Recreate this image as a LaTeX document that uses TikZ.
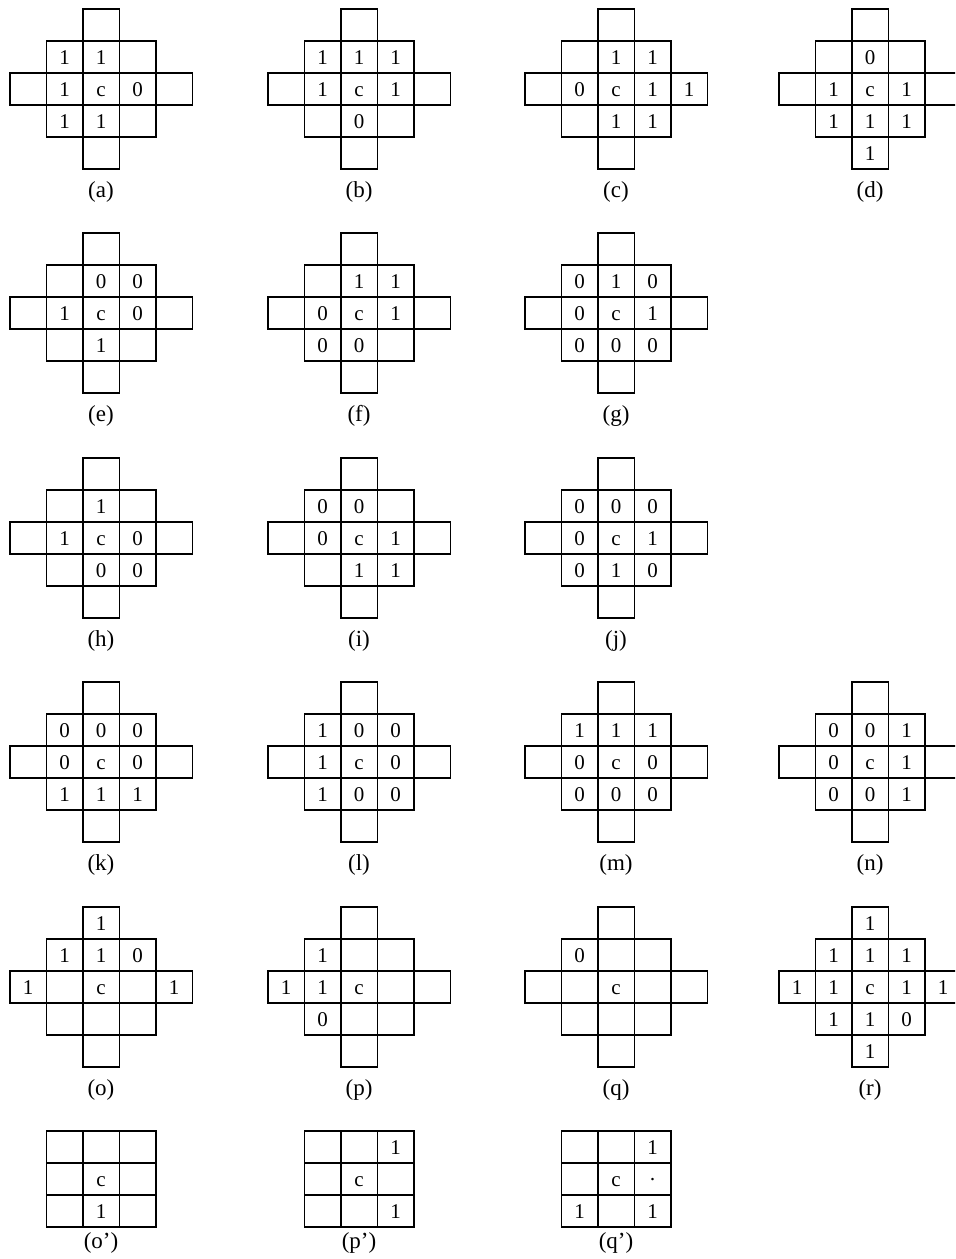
\documentclass[tikz,border=0pt]{standalone}
\usepackage{fontspec}
\setmainfont{Liberation Serif}

\begin{document}
\begin{tikzpicture}[
        x=0.5pt, y=-0.5pt,
        every node/.style={font=\fontsize{10.5}{12}\selectfont},
        cellval/.style={inner sep=0pt, text height=7.1pt, text depth=0pt},
        caplabel/.style={inner sep=0pt, anchor=north, font=\fontsize{11.5}{13}\selectfont},
        gridline/.style={line width=0.75pt}
    ]
        \useasboundingbox (0,0) rectangle (955,1259);
        \clip (0,0) rectangle (955,1259);

        \def\cw{36.5}
        \def\ch{32}
        \def\capgap{12}

        % #1 name, #2 caption, #3 x, #4 y, #5 arm (cells), #6 row/col/value
        \def\panel#1#2#3#4#5#6{%
            \begin{scope}[shift={(#3,#4)}]
                \draw[gridline] (-1.5*\cw,-1.5*\ch) rectangle (1.5*\cw,1.5*\ch);
                \draw[gridline] (-#5*\cw,-0.5*\ch) rectangle (#5*\cw,0.5*\ch);
                \draw[gridline] (-0.5*\cw,-#5*\ch) rectangle (0.5*\cw,#5*\ch);
                \foreach \r/\c/\v in {#6}
                \node[cellval] (#1-\r\c) at ({(\c-3)*\cw},{(\r-3)*\ch}) {\v};
                \node[caplabel] (#1-cap) at (0,{#5*\ch+\capgap}) {(#2)};
            \end{scope}}

        \def\xA{101}
        \def\xB{359}
        \def\xC{616}
        \def\xD{870}

% ---------- row 1 ----------
        \panel{a}{a}{\xA}{89}{2.5}{2/2/1, 2/3/1, 3/2/1, 3/3/c, 3/4/0, 4/2/1, 4/3/1}
        \panel{b}{b}{\xB}{89}{2.5}{2/2/1, 2/3/1, 2/4/1, 3/2/1, 3/3/c, 3/4/1, 4/3/0}
        \panel{c}{c}{\xC}{89}{2.5}{2/3/1, 2/4/1, 3/2/0, 3/3/c, 3/4/1, 3/5/1, 4/3/1, 4/4/1}
        \panel{d}{d}{\xD}{89}{2.5}{2/3/0, 3/2/1, 3/3/c, 3/4/1, 4/2/1, 4/3/1, 4/4/1, 5/3/1}

% ---------- row 2 ----------
        \panel{e}{e}{\xA}{313}{2.5}{2/3/0, 2/4/0, 3/2/1, 3/3/c, 3/4/0, 4/3/1}
        \panel{f}{f}{\xB}{313}{2.5}{2/3/1, 2/4/1, 3/2/0, 3/3/c, 3/4/1, 4/2/0, 4/3/0}
        \panel{g}{g}{\xC}{313}{2.5}{2/2/0, 2/3/1, 2/4/0, 3/2/0, 3/3/c, 3/4/1, 4/2/0, 4/3/0, 4/4/0}

% ---------- row 3 ----------
        \panel{h}{h}{\xA}{538}{2.5}{2/3/1, 3/2/1, 3/3/c, 3/4/0, 4/3/0, 4/4/0}
        \panel{i}{i}{\xB}{538}{2.5}{2/2/0, 2/3/0, 3/2/0, 3/3/c, 3/4/1, 4/3/1, 4/4/1}
        \panel{j}{j}{\xC}{538}{2.5}{2/2/0, 2/3/0, 2/4/0, 3/2/0, 3/3/c, 3/4/1, 4/2/0, 4/3/1, 4/4/0}

% ---------- row 4 ----------
        \panel{k}{k}{\xA}{762}{2.5}{2/2/0, 2/3/0, 2/4/0, 3/2/0, 3/3/c, 3/4/0, 4/2/1, 4/3/1, 4/4/1}
        \panel{l}{l}{\xB}{762}{2.5}{2/2/1, 2/3/0, 2/4/0, 3/2/1, 3/3/c, 3/4/0, 4/2/1, 4/3/0, 4/4/0}
        \panel{m}{m}{\xC}{762}{2.5}{2/2/1, 2/3/1, 2/4/1, 3/2/0, 3/3/c, 3/4/0, 4/2/0, 4/3/0, 4/4/0}
        \panel{n}{n}{\xD}{762}{2.5}{2/2/0, 2/3/0, 2/4/1, 3/2/0, 3/3/c, 3/4/1, 4/2/0, 4/3/0, 4/4/1}

% ---------- row 5 ----------
        \panel{o}{o}{\xA}{987}{2.5}{1/3/1, 2/2/1, 2/3/1, 2/4/0, 3/1/1, 3/3/c, 3/5/1}
        \panel{p}{p}{\xB}{987}{2.5}{2/2/1, 3/1/1, 3/2/1, 3/3/c, 4/2/0}
        \panel{q}{q}{\xC}{987}{2.5}{2/2/0, 3/3/c}
        \panel{r}{r}{\xD}{987}{2.5}{1/3/1, 2/2/1, 2/3/1, 2/4/1, 3/1/1, 3/2/1, 3/3/c, 3/4/1, 3/5/1, 4/2/1, 4/3/1, 4/4/0, 5/3/1}

% ---------- row 6: plain 3x3 ----------
        \def\capgap{5}
        \panel{op}{o'}{\xA}{1179}{1.5}{3/3/c, 4/3/1}
        \panel{pp}{p'}{\xB}{1179}{1.5}{2/4/1, 3/3/c, 4/4/1}
        \panel{qp}{q'}{\xC}{1179}{1.5}{2/4/1, 3/3/c, 3/4/·, 4/2/1, 4/4/1}

\end{tikzpicture}
\end{document}
